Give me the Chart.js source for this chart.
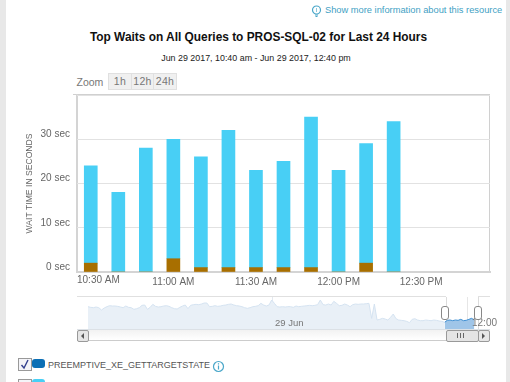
<!DOCTYPE html>
<html><head><meta charset="utf-8">
<script src="https://cdn.jsdelivr.net/npm/chart.js@4"></script>
<style>
html,body{margin:0;padding:0;background:#fff;width:510px;height:382px;overflow:hidden;font-family:"Liberation Sans",Arial,sans-serif;color:#666}
body{filter:blur(.35px)}
.a{position:absolute;white-space:nowrap}
.btn{position:absolute;top:73px;height:15px;background:#f0f0f0;border:1px solid #e0e0e0;font:10.5px/15px "Liberation Sans";color:#777;text-align:center;box-sizing:content-box;letter-spacing:.3px}
canvas{position:absolute}
</style></head><body>
<div class="a" style="left:0;top:0;width:6px;height:382px;background:#e8e8e8"></div>
<div class="a" style="left:506px;top:0;width:4px;height:382px;background:#e8e8e8"></div>

<svg class="a" style="left:311px;top:5px" width="12" height="12" viewBox="0 0 12 12"><circle cx="5.5" cy="5" r="4" fill="none" stroke="#4aa7c9" stroke-width="1.2"/><path d="M4 10h3M4.5 11.5h2" stroke="#4aa7c9"/><path d="M5.5 3v4" stroke="#8cc7dd"/></svg>
<div class="a" style="left:325px;top:4px;font-size:9.3px;line-height:12px;color:#3f9fc4">Show more information about this resource</div>
<div class="a" style="left:0;width:517px;text-align:center;top:30px;font-weight:bold;font-size:11.9px;line-height:15px;color:#111">Top Waits on All Queries to PROS-SQL-02 for Last 24 Hours</div>
<div class="a" style="left:0;width:512px;text-align:center;top:52px;font-size:8.9px;line-height:12px;color:#222">Jun 29 2017, 10:40 am - Jun 29 2017, 12:40 pm</div>

<div class="a" style="left:76.5px;top:75px;font:10.5px/14px 'Liberation Sans';color:#777">Zoom</div>
<div class="btn" style="left:108px;width:22px">1h</div>
<div class="btn" style="left:131px;width:21px">12h</div>
<div class="btn" style="left:153px;width:22px">24h</div>

<!-- plot frame -->
<div class="a" style="left:73px;top:94px;width:417px;height:1px;background:#d0d0d0"></div>
<div class="a" style="left:76px;top:94px;width:2px;height:178px;background:#d4d4d4"></div>
<div class="a" style="left:489px;top:94px;width:1px;height:178px;background:#d0d0d0"></div>
<canvas id="main" style="left:0;top:70px" width="510" height="220"></canvas>

<!-- navigator -->
<div class="a" style="left:77px;top:296px;width:369px;height:1px;background:#e0e0e0"></div>
<div class="a" style="left:478px;top:296px;width:12px;height:1px;background:#e0e0e0"></div>
<div class="a" style="left:272px;top:297px;width:1px;height:32px;background:#e4e9ef"></div>
<div class="a" style="left:467px;top:297px;width:1px;height:32px;background:#e6e6e6"></div>
<div class="a" style="left:446px;top:297px;width:1px;height:32px;background:#dcdcdc"></div>
<div class="a" style="left:478px;top:297px;width:1px;height:32px;background:#dcdcdc"></div>
<canvas id="nav" style="left:88px;top:297px" width="389" height="32"></canvas>
<div class="a" style="left:275px;top:317px;font:9.5px/12px 'Liberation Sans';color:#777">29 Jun</div>
<div class="a" style="left:472px;top:317px;font:10px/12px 'Liberation Sans';color:#777">12:00</div>
<div class="a" style="left:77px;top:329px;width:413px;height:1px;background:#dce1e6"></div>
<!-- scrollbar -->
<div class="a" style="left:77px;top:330px;width:413px;height:10px;background:linear-gradient(#f2f2f2,#fff);border-bottom:1px solid #ccc"></div>
<div class="a" style="left:77px;top:330px;width:10px;height:10px;background:#e6e6e6;border:1px solid #999;border-radius:2px"></div>
<div class="a" style="left:81px;top:333px;width:0;height:0;border:3px solid transparent;border-left:0;border-right:3px solid #555"></div>
<div class="a" style="left:446px;top:330px;width:31px;height:10px;background:#e4e4e4;border:1px solid #999;border-radius:2px"></div>
<div class="a" style="left:457px;top:333px;width:7px;height:5px;background:repeating-linear-gradient(90deg,#666 0 1px,transparent 1px 3px)"></div>
<div class="a" style="left:478px;top:330px;width:10px;height:10px;background:#e6e6e6;border:1px solid #999;border-radius:2px"></div>
<div class="a" style="left:482px;top:333px;width:0;height:0;border:3px solid transparent;border-right:0;border-left:3px solid #555"></div>
<div class="a" style="left:441px;top:306px;width:6px;height:12px;background:#fff;border:1px solid #888;border-radius:3px"></div>
<div class="a" style="left:474px;top:306px;width:6px;height:12px;background:#fff;border:1px solid #888;border-radius:3px"></div>

<!-- legend -->
<svg class="a" style="left:18px;top:358px" width="28" height="13" viewBox="0 0 28 13"><rect x="14" y="1" width="13" height="9" rx="3" fill="#0b6fb5"/><rect x=".5" y=".5" width="13" height="12" fill="#f4f4f8" stroke="#999"/><path d="M3.5 7l2.5 3 4-8" fill="none" stroke="#34418f" stroke-width="1.4"/></svg>
<div class="a" id="leg1" style="left:48px;top:359px;font-size:9px;line-height:13px;color:#555"></div>
<svg class="a" style="left:212px;top:360px" width="13" height="13" viewBox="0 0 13 13"><circle cx="6.5" cy="6.5" r="5" fill="none" stroke="#4aa7c9" stroke-width="1.2"/><path d="M6.5 5.5v4M6.5 3.2v1.2" stroke="#4aa7c9" stroke-width="1.2"/></svg>
<svg class="a" style="left:18px;top:379px" width="28" height="3" viewBox="0 0 28 3"><rect x=".5" y=".5" width="13" height="6" fill="#f4f4f8" stroke="#999"/><rect x="14" y="0" width="13" height="6" rx="3" fill="#48cff5"/></svg>

<script>
const categories=["10:30 AM","10:40 AM","10:50 AM","11:00 AM","11:10 AM","11:20 AM","11:30 AM","11:40 AM","11:50 AM","12:00 PM","12:10 PM","12:20 PM","12:30 PM","12:40 PM","12:50 PM"];
const tickLabels=["11:00 AM","11:30 AM","12:00 PM","12:30 PM"];
const firstTickLabel="10:30 AM";
const brownValues=[2,0,0,3,1,1,1,1,1,0,2,0];
const cyanValues=[22,18,28,27,25,31,22,24,34,23,27,34];
const legendNames=["PREEMPTIVE_XE_GETTARGETSTATE"];
const navContext=[67,65,64,66,64,57,63,67,70,69,69,68,66,64,69,65,64,59,61,64,71,72,59,65,74,68,66,67,69,70,68,64,61,60,65,69,72,61,71,73,74,73,75,78,78,67,68,70,68,69,71,72,74,75,72,70,69,67,64,62,64,67,68,70,77,72,69,72,87,77,67,66,67,66,67,67,65,69,67,68,69,70,71,70,71,73,87,73,72,75,72,83,77,70,71,75,72,67,73,75,74,75,75,76,77,32,75,27,29,32,30,27,35,45,31,27,26,25,23,19,29,31,27,25,25,27,26,25,27,26,24,23,20];
const navSelected=[20,26,27,25,27,26,29,25,26,29,32,27];

document.getElementById('leg1').textContent=legendNames[0];
const axisFont={family:'"Liberation Sans"',size:10};
new Chart(document.getElementById('main'),{
 type:'bar',
 data:{labels:categories,datasets:[
  {label:'Brown',data:brownValues,backgroundColor:'#a86f00',borderWidth:0,barThickness:13,stack:'s'},
  {label:'Cyan',data:cyanValues,backgroundColor:'#48cff5',borderWidth:0,barThickness:13,stack:'s'}]},
 plugins:[{id:'firstLabel',afterDraw(c){const x=c.ctx;x.save();x.font='10px "Liberation Sans"';x.fillStyle='#666';x.textBaseline='middle';x.textAlign='left';x.fillText(firstTickLabel,c.chartArea.left,210);x.restore();}}],
 options:{responsive:false,animation:false,
  layout:{padding:{left:24,right:20,top:25,bottom:0}},
  plugins:{legend:{display:false},title:{display:false},tooltip:{enabled:false}},
  scales:{
   x:{stacked:true,offset:true,afterFit(s){s.height=18},
      grid:{display:false},border:{color:'#d4d4d4',width:2},
      ticks:{autoSkip:false,maxRotation:0,color:'#666',font:axisFont,padding:-4,
        callback(v){const l=this.getLabelForValue(v);return tickLabels.includes(l)?l:''}}},
   y:{stacked:true,min:0,max:40,afterFit(s){s.width=53},
      grid:{color:'#e2e2e2',drawTicks:false},border:{display:false},
      title:{display:true,text:'WAIT TIME IN SECONDS',color:'#666',font:{family:'"Liberation Sans"',size:8.6},padding:0},
      ticks:{stepSize:10,color:'#666',font:axisFont,padding:7,labelOffset:-5,
        callback(v){return v<40?v+' sec':''}}}
  }}
});
const navLabels=navContext.concat(navSelected).map((_,i)=>i);
new Chart(document.getElementById('nav'),{
 type:'line',
 data:{labels:navLabels,datasets:[
  {data:navContext,borderColor:'#d5e3f1',backgroundColor:'#e9f0f7',borderWidth:1,fill:'origin',pointRadius:0,tension:0},
  {data:new Array(navContext.length-1).fill(null).concat(navSelected),borderColor:'#3f8fd2',backgroundColor:'#9fc5e8',borderWidth:1,fill:'origin',pointRadius:0,tension:0}]},
 options:{responsive:false,animation:false,layout:{padding:0},
  plugins:{legend:{display:false},tooltip:{enabled:false}},
  scales:{x:{display:false},y:{display:false,min:0,max:96}}}
});
</script>
</body></html>
